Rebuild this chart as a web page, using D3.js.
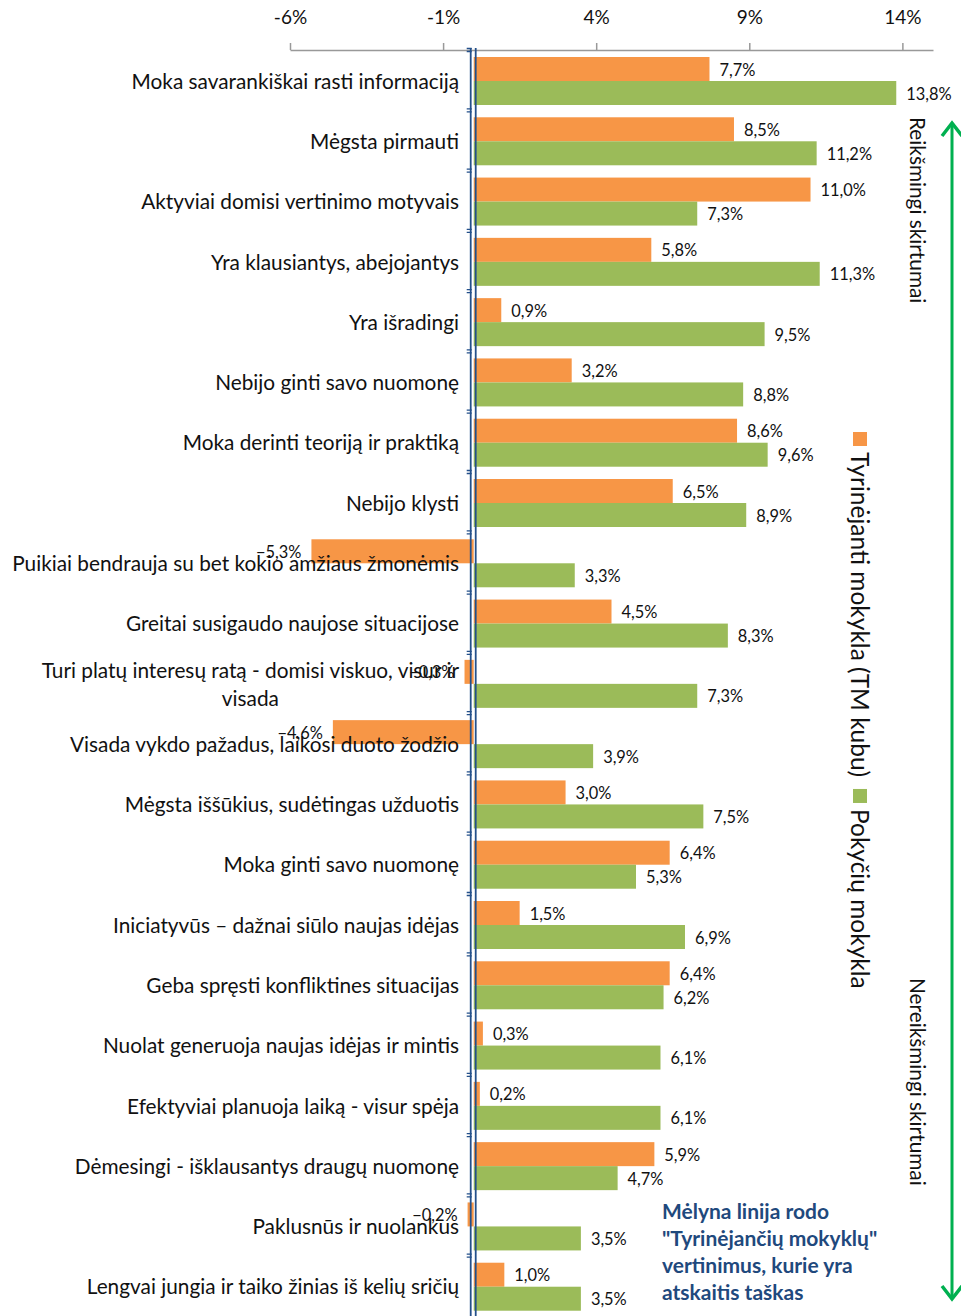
<!DOCTYPE html>
<html>
<head>
<meta charset="utf-8">
<script src="https://cdn.jsdelivr.net/npm/d3@7"></script>
<style>
  body { margin: 0; background: #fff; }
  svg text { font-family: Lato, "Open Sans", sans-serif; }
</style>
</head>
<body>
<div id="chart"></div>
<script>
(function () {

// categories, top to bottom
var categories = [
  "Moka savarankiškai rasti informaciją",
  "Mėgsta pirmauti",
  "Aktyviai domisi vertinimo motyvais",
  "Yra klausiantys, abejojantys",
  "Yra išradingi",
  "Nebijo ginti savo nuomonę",
  "Moka derinti teoriją ir praktiką",
  "Nebijo klysti",
  "Puikiai bendrauja su bet kokio amžiaus žmonėmis",
  "Greitai susigaudo naujose situacijose",
  "Turi platų interesų ratą - domisi viskuo, visur ir visada",
  "Visada vykdo pažadus, laikosi duoto žodžio",
  "Mėgsta iššūkius, sudėtingas užduotis",
  "Moka ginti savo nuomonę",
  "Iniciatyvūs – dažnai siūlo naujas idėjas",
  "Geba spręsti konfliktines situacijas",
  "Nuolat generuoja naujas idėjas ir mintis",
  "Efektyviai planuoja laiką - visur spėja",
  "Dėmesingi - išklausantys draugų nuomonę",
  "Paklusnūs ir nuolankus",
  "Lengvai jungia ir taiko žinias iš kelių sričių"
];

// Tyrinėjanti mokykla (TM kubu)
var tmValues = [7.7, 8.5, 11.0, 5.8, 0.9, 3.2, 8.6, 6.5, -5.3, 4.5, -0.3, -4.6, 3.0, 6.4, 1.5, 6.4, 0.3, 0.2, 5.9, -0.2, 1.0];
// Pokyčių mokykla
var pmValues = [13.8, 11.2, 7.3, 11.3, 9.5, 8.8, 9.6, 8.9, 3.3, 8.3, 7.3, 3.9, 7.5, 5.3, 6.9, 6.2, 6.1, 6.1, 4.7, 3.5, 3.5];

var seriesNames = ["Tyrinėjanti mokykla (TM kubu)", "Pokyčių mokykla"];
var tickValues = [-6, -1, 4, 9, 14];

var noteLines = ["Mėlyna linija rodo", "\"Tyrinėjančių mokyklų\"", "vertinimus, kurie yra", "atskaitis taškas"];

var orange = '#F79646', green = '#9BBB59', blue = '#24508A', arrowGreen = '#00B050';

var width = 961, height = 1316;

var svg = d3.select('#chart')
  .append('svg')
  .attr('width', width)
  .attr('height', height);

var x = d3.scaleLinear().domain([-6, 15]).range([290, 933]);
var y = d3.scaleBand().domain(categories).range([50, 1316]);

var barH = 24;
var fmt = function (v) { return d3.format('.1f')(v).replace('.', ',') + '%'; };

// top axis
var xAxis = svg.append('g')
  .attr('transform', 'translate(0,50)')
  .call(d3.axisTop(x).tickValues(tickValues).tickSize(7).tickSizeOuter(0).tickPadding(19)
    .tickFormat(function (d) { return d + '%'; }));
xAxis.select('.domain').attr('stroke', '#999').attr('stroke-width', 1.5);
xAxis.selectAll('.tick line').attr('stroke', '#999').attr('stroke-width', 1.5);
xAxis.selectAll('.tick text').style('font-size', '19px').attr('fill', '#111');

var rows = categories.map(function (c, i) { return { cat: c, tm: tmValues[i], pm: pmValues[i] }; });

// bars
svg.selectAll('.bar-tm')
  .data(rows).enter()
  .append('rect')
  .attr('class', 'bar-tm')
  .attr('x', function (d) { return x(Math.min(0, d.tm)); })
  .attr('y', function (d) { return y(d.cat) + 7; })
  .attr('width', function (d) { return Math.abs(x(d.tm) - x(0)); })
  .attr('height', barH)
  .attr('fill', orange);

svg.selectAll('.bar-pm')
  .data(rows).enter()
  .append('rect')
  .attr('class', 'bar-pm')
  .attr('x', function (d) { return x(Math.min(0, d.pm)); })
  .attr('y', function (d) { return y(d.cat) + 7 + barH; })
  .attr('width', function (d) { return Math.abs(x(d.pm) - x(0)); })
  .attr('height', barH)
  .attr('fill', green);

// category axis: double blue line at zero with double tick marks
var x0 = x(0);
[-3, 2].forEach(function (off) {
  svg.append('line')
    .attr('x1', x0 + off).attr('x2', x0 + off)
    .attr('y1', 48).attr('y2', height)
    .attr('stroke', blue).attr('stroke-width', 1.8);
});
var bounds = categories.map(function (c) { return y(c); });
svg.selectAll('.cat-tick')
  .data(bounds).enter()
  .append('path')
  .attr('class', 'cat-tick')
  .attr('d', function (d) {
    return 'M' + (x0 - 7) + ',' + (d - 1.5) + 'H' + (x0 - 2) +
           'M' + (x0 - 7) + ',' + (d + 1.5) + 'H' + (x0 - 2);
  })
  .attr('stroke', blue).attr('stroke-width', 1.3);

// category labels (long ones wrap, lines centered like Excel)
var labelX = 459, labelSize = '20.8px';
rows.forEach(function (d) {
  var cy = y(d.cat) + y.bandwidth() / 2;
  var words = d.cat.split(' '), lines = [], cur = '';
  words.forEach(function (w) {
    var t = cur ? cur + ' ' + w : w;
    if (t.length > 50) { lines.push(cur); cur = w; } else { cur = t; }
  });
  lines.push(cur);
  if (lines.length === 1) {
    svg.append('text')
      .attr('x', labelX).attr('y', cy)
      .attr('text-anchor', 'end')
      .attr('dominant-baseline', 'central')
      .style('font-size', labelSize).attr('fill', '#111')
      .text(lines[0]);
  } else {
    var g = svg.append('g');
    var t0 = g.append('text').style('font-size', labelSize).text(lines[0]);
    var w0 = t0.node().getComputedTextLength();
    t0.remove();
    lines.forEach(function (ln, k) {
      g.append('text')
        .attr('x', labelX - w0 / 2)
        .attr('y', cy + (k - (lines.length - 1) / 2) * 28)
        .attr('text-anchor', 'middle')
        .attr('dominant-baseline', 'central')
        .style('font-size', labelSize).attr('fill', '#111')
        .text(ln);
    });
  }
});

// data labels
function addLabels(key, offset) {
  svg.selectAll('.lab-' + key)
    .data(rows).enter()
    .append('text')
    .attr('class', 'lab-' + key)
    .attr('x', function (d) { return d[key] >= 0 ? x(d[key]) + 10 : x(d[key]) - 10; })
    .attr('y', function (d) { return y(d.cat) + 7 + offset + barH / 2; })
    .attr('text-anchor', function (d) { return d[key] >= 0 ? 'start' : 'end'; })
    .attr('dominant-baseline', 'central')
    .style('font-size', '16.4px').attr('fill', '#111')
    .text(function (d) { return fmt(d[key]); });
}
addLabels('tm', 0);
addLabels('pm', barH);

// legend (vertical, rotated)
var legX = 860, legY = 432;
var legColors = [orange, green];
seriesNames.forEach(function (name, i) {
  svg.append('rect')
    .attr('x', legX - 7).attr('y', legY)
    .attr('width', 14).attr('height', 14)
    .attr('fill', legColors[i]);
  var t = svg.append('text')
    .attr('transform', 'translate(' + legX + ',' + (legY + 20) + ') rotate(90)')
    .attr('dominant-baseline', 'central')
    .style('font-size', '24.5px').attr('fill', '#111')
    .text(name);
  legY = legY + 20 + t.node().getComputedTextLength() + 12;
});

// significance arrow
var arrowX = 952;
svg.append('line')
  .attr('x1', arrowX).attr('x2', arrowX)
  .attr('y1', 124).attr('y2', 1298)
  .attr('stroke', arrowGreen).attr('stroke-width', 3);
svg.append('path')
  .attr('d', 'M' + (arrowX - 10) + ',136L' + arrowX + ',123L' + (arrowX + 10) + ',136' +
             'M' + (arrowX - 10) + ',1286L' + arrowX + ',1299L' + (arrowX + 10) + ',1286')
  .attr('fill', 'none').attr('stroke', arrowGreen).attr('stroke-width', 3.5);

svg.append('text')
  .attr('transform', 'translate(918,117) rotate(90)')
  .attr('dominant-baseline', 'central')
  .style('font-size', '20.8px').attr('fill', '#111')
  .text('Reikšmingi skirtumai');
svg.append('text')
  .attr('transform', 'translate(918,978) rotate(90)')
  .attr('dominant-baseline', 'central')
  .style('font-size', '20.8px').attr('fill', '#111')
  .text('Nereikšmingi skirtumai');

// note
svg.selectAll('.note')
  .data(noteLines).enter()
  .append('text')
  .attr('class', 'note')
  .attr('x', 662)
  .attr('y', function (d, i) { return 1210 + i * 27; })
  .attr('dominant-baseline', 'central')
  .style('font-size', '21px').style('font-weight', 'bold')
  .attr('fill', '#1F497D')
  .text(function (d) { return d; });

})();
</script>
</body>
</html>
